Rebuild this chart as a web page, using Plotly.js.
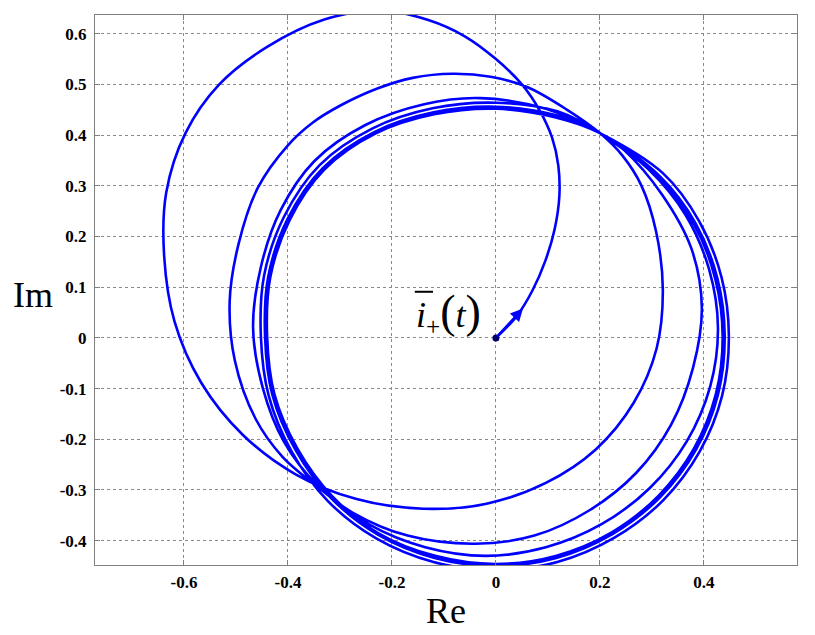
<!DOCTYPE html>
<html>
<head>
<meta charset="utf-8">
<script src="https://cdn.plot.ly/plotly-3.0.1.min.js"></script>
<style>
  html, body { margin: 0; padding: 0; background: #fff; }
  #plot { width: 815px; height: 635px; }
</style>
</head>
<body>
<div id="plot"></div>
<script>
// trajectory of the current space vector, read loop by loop off the figure
const loop1Re = [0, 0.040, 0.070, 0.095, 0.113, 0.122, 0.120, 0.108, 0.085, 0.050, 0.000, -0.060, -0.130, -0.220, -0.330, -0.440, -0.532, -0.597, -0.634, -0.638, -0.618, -0.567, -0.487, -0.387, -0.268, -0.140, -0.018, 0.096, 0.192, 0.265, 0.309, 0.321, 0.308, 0.280, 0.243];
const loop1Im = [0, 0.043, 0.093, 0.152, 0.215, 0.280, 0.340, 0.395, 0.447, 0.500, 0.550, 0.595, 0.627, 0.646, 0.628, 0.574, 0.500, 0.404, 0.287, 0.161, 0.032, -0.088, -0.191, -0.268, -0.318, -0.337, -0.327, -0.286, -0.220, -0.128, -0.021, 0.095, 0.210, 0.300, 0.360];

const loop2Re = [0.200, 0.137, 0.060, -0.010, -0.083, -0.160, -0.228, -0.300, -0.352, -0.400, -0.458, -0.495, -0.512, -0.502, -0.462, -0.410, -0.345, -0.275, -0.170, -0.040, 0.074, 0.180, 0.270, 0.337, 0.379, 0.396, 0.376, 0.320, 0.246];
const loop2Im = [0.404, 0.450, 0.495, 0.515, 0.521, 0.513, 0.492, 0.458, 0.425, 0.380, 0.296, 0.185, 0.072, -0.045, -0.160, -0.235, -0.292, -0.345, -0.390, -0.406, -0.390, -0.340, -0.266, -0.171, -0.059, 0.060, 0.176, 0.282, 0.371];

const loop3Re = [0.200, 0.096, -0.030, -0.138, -0.251, -0.349, -0.414, -0.452, -0.467, -0.448, -0.408, -0.343, -0.244, -0.136, -0.020, 0.096, 0.204, 0.296, 0.367, 0.412, 0.427, 0.410, 0.365, 0.293];
const loop3Im = [0.404, 0.452, 0.473, 0.461, 0.420, 0.349, 0.252, 0.140, 0.020, -0.100, -0.204, -0.291, -0.368, -0.413, -0.430, -0.413, -0.367, -0.296, -0.204, -0.096, 0.020, 0.135, 0.242, 0.333];

const loop4Re = [0.200, 0.118, 0.000, -0.122, -0.238, -0.339, -0.408, -0.446, -0.452, -0.437, -0.393, -0.324, -0.231, -0.120, -0.001, 0.118, 0.228, 0.322, 0.392, 0.435, 0.448, 0.434, 0.391, 0.321];
const loop4Im = [0.404, 0.447, 0.464, 0.453, 0.413, 0.341, 0.238, 0.122, 0.003, -0.114, -0.224, -0.321, -0.395, -0.442, -0.458, -0.442, -0.394, -0.320, -0.224, -0.114, 0.003, 0.119, 0.230, 0.325];

const loop5Re = [0.200, 0.116, 0.000, -0.120, -0.234, -0.333, -0.401, -0.438, -0.444, -0.430, -0.386, -0.318, -0.227, -0.118, -0.001, 0.116, 0.224, 0.316, 0.385, 0.427, 0.440, 0.426, 0.384, 0.315];
const loop5Im = [0.404, 0.439, 0.456, 0.445, 0.406, 0.335, 0.234, 0.120, 0.003, -0.112, -0.220, -0.315, -0.388, -0.434, -0.450, -0.434, -0.387, -0.314, -0.220, -0.112, 0.003, 0.117, 0.226, 0.319];

const loop6Re = [0.200, 0.115, 0.000, -0.119, -0.232, -0.330, -0.397, -0.434, -0.440, -0.426, -0.382, -0.315, -0.225, -0.117, -0.001, 0.115, 0.222, 0.313, 0.381, 0.423, 0.436, 0.422, 0.381, 0.313, 0.200];
const loop6Im = [0.404, 0.435, 0.452, 0.441, 0.403, 0.332, 0.232, 0.119, 0.003, -0.111, -0.218, -0.312, -0.386, -0.430, -0.446, -0.430, -0.384, -0.311, -0.218, -0.111, 0.003, 0.116, 0.224, 0.316, 0.404];

const xTicks = [-0.6, -0.4, -0.2, 0, 0.2, 0.4];
const xTickText = ["-0.6", "-0.4", "-0.2", "0", "0.2", "0.4"];
const yTicks = [-0.4, -0.3, -0.2, -0.1, 0, 0.1, 0.2, 0.3, 0.4, 0.5, 0.6];
const yTickText = ["-0.4", "-0.3", "-0.2", "-0.1", "0", "0.1", "0.2", "0.3", "0.4", "0.5", "0.6"];

const re = [].concat(loop1Re, loop2Re, loop3Re, loop4Re, loop5Re, loop6Re);
const im = [].concat(loop1Im, loop2Im, loop3Im, loop4Im, loop5Im, loop6Im);

const serif = "Liberation Serif, Times New Roman, serif";
const tickFont = { family: serif, size: 17, color: "#000", weight: "bold" };

const traceCurve = {
    x: re,
    y: im,
    mode: "lines",
    type: "scatter",
    line: { color: "#0000ff", width: 2.6, shape: "spline", smoothing: 1 },
    hoverinfo: "skip",
};

const traceStart = {
    x: [re[0]],
    y: [im[0]],
    mode: "markers",
    type: "scatter",
    marker: { color: "#00006a", size: 7 },
    hoverinfo: "skip",
};

const axisCommon = {
    showgrid: true,
    gridcolor: "#8a8a8a",
    griddash: "dot",
    gridwidth: 1,
    zeroline: false,
    showline: true,
    linecolor: "#808080",
    linewidth: 1,
    mirror: "ticks",
    ticks: "inside",
    ticklen: 5,
    tickcolor: "#808080",
    tickfont: tickFont,
    fixedrange: true,
};

const layout = {
    width: 815,
    height: 635,
    margin: { l: 95, r: 18, t: 15, b: 70 },
    paper_bgcolor: "#fff",
    plot_bgcolor: "#fff",
    showlegend: false,
    xaxis: Object.assign({}, axisCommon, {
        range: [-0.771, 0.579],
        tickvals: xTicks,
        ticktext: xTickText,
        ticklabelstandoff: 2,
    }),
    yaxis: Object.assign({}, axisCommon, {
        range: [-0.448, 0.637],
        tickvals: yTicks,
        ticktext: yTickText,
        ticklabelstandoff: 4,
    }),
    shapes: [
        // bar over the i
        { type: "line", xref: "x", yref: "y", x0: -0.156, x1: -0.121, y0: 0.091, y1: 0.091,
          line: { color: "#000", width: 2 } },
    ],
    annotations: [
        { xref: "paper", yref: "paper", x: 0.5, y: -0.083, text: "Re", showarrow: false,
          xanchor: "center", yanchor: "middle", font: { family: serif, size: 36, color: "#000" } },
        { xref: "paper", yref: "paper", x: -0.088, y: 0.491, text: "Im", showarrow: false,
          xanchor: "center", yanchor: "middle", font: { family: serif, size: 36, color: "#000" } },
        { xref: "x", yref: "y", x: -0.025, y: 0.05, xanchor: "right", yanchor: "middle", showarrow: false,
          text: "<i>i</i><sub>+</sub><span style=\"font-size:46px\">(</span><i>t</i><span style=\"font-size:46px\">)</span>",
          font: { family: serif, size: 36, color: "#000" } },
        { xref: "x", yref: "y", axref: "x", ayref: "y", x: 0.052, y: 0.058, ax: 0, ay: 0,
          text: "", showarrow: true, arrowhead: 2, arrowsize: 1, arrowwidth: 2.5, arrowcolor: "#0000ff" },
    ],
};

Plotly.newPlot("plot", [traceCurve, traceStart], layout, { displayModeBar: false, staticPlot: true });
</script>
</body>
</html>
